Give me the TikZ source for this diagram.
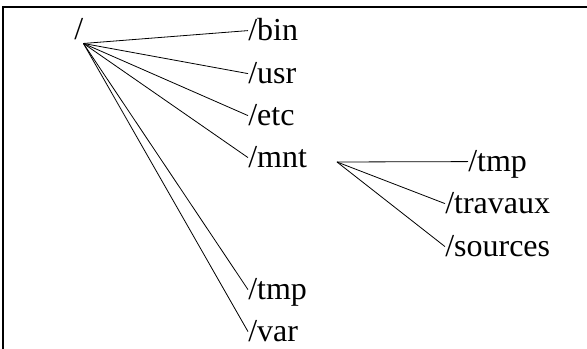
\documentclass[tikz,border=0pt]{standalone}
\usepackage{fontspec}
\setmainfont{Liberation Serif}
\usepackage{tikz}

\tikzset{
    dirname/.style={anchor=base west, inner sep=0pt, text height=18pt, text depth=2.4pt,
        font=\fontsize{24}{29}\selectfont},
    branch/.style={line width=0.6pt}
}

\begin{document}
\begin{tikzpicture}[x=0.75pt, y=-0.75pt]
    \useasboundingbox (0, 0) rectangle (587, 349);

    % draw frame lines
    \draw[line width=1.3pt] (587, 7) -- (3, 7) -- (3, 349);

    % draw directory names
    \node[dirname] (root) at (74, 40) {/};
    \node[dirname] (bin) at (248, 41) {/bin};
    \node[dirname] (usr) at (248, 84) {/usr};
    \node[dirname] (etc) at (248, 126) {/etc};
    \node[dirname] (mnt) at (248, 168) {/mnt};
    \node[dirname] (tmp) at (248, 300) {/tmp};
    \node[dirname] (var) at (248, 342) {/var};

    \node[dirname] (mnttmp) at (468, 172) {/tmp};
    \node[dirname] (travaux) at (445, 214) {/travaux};
    \node[dirname] (sources) at (445, 257) {/sources};

    % draw branches from root
    \foreach \d in {bin, usr, etc, mnt, tmp, var}
        \draw[branch] (root.south east) -- (\d.west);

    % draw branches from mnt
    \coordinate (mntroot) at (337, 162);
    \foreach \d in {mnttmp, travaux, sources}
        \draw[branch] (mntroot) -- (\d.west);

\end{tikzpicture}
\end{document}
